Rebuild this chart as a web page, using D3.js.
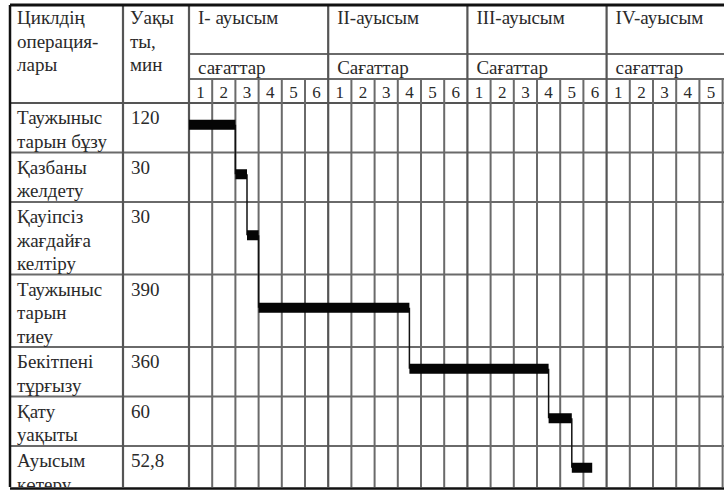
<!DOCTYPE html>
<html><head><meta charset="utf-8">
<script src="https://cdn.jsdelivr.net/npm/d3@7"></script>
<style>html,body{margin:0;padding:0;background:#fff;overflow:hidden}</style>
</head><body>
<svg id="chart" width="724" height="490"></svg>
<script>
// ---- data ----
const operations = [
  ["Таужыныс", "тарын бұзу"],
  ["Қазбаны", "желдету"],
  ["Қауіпсіз", "жағдайға", "келтіру"],
  ["Таужыныс", "тарын", "тиеу"],
  ["Бекітпені", "тұрғызу"],
  ["Қату", "уақыты"],
  ["Ауысым", "көтеру"]
];
const durationLabels = ["120", "30", "30", "390", "360", "60", "52,8"];
const durations = [120, 30, 30, 390, 360, 60, 52.8]; // minutes
const shiftLabels = ["I- ауысым", "II-ауысым", "III-ауысым", "IV-ауысым"];
const hoursLabels = ["сағаттар", "Сағаттар", "Сағаттар", "сағаттар"];
const hourTicks = [1, 2, 3, 4, 5, 6];
const headerCol1 = ["Циклдің", "операция-", "лары"];
const headerCol2 = ["Уақы", "ты,", "мин"];

(function () {
// ---- layout ----
const W = 724, H = 490;
const leftX = 10, col2 = 123, col3 = 189, topY = 5;
const yShift = 54, yHours = 79, yBody = 103;
const hourW = 23.2;
const lineH = 23.5;
const font = "'Liberation Serif','Times New Roman',serif";
const gridC = "#6a6a6a", textC = "#2a2a2a";

const svg = d3.select("#chart");
svg.append("rect").attr("width", W).attr("height", H).attr("fill", "#fff");

const x = d3.scaleLinear().domain([0, 24 * 60]).range([col3, col3 + 24 * hourW]);

const rowTops = [];
let yy = yBody;
operations.forEach(lines => { rowTops.push(yy); yy += lines.length * 23 + 3.5; });
const rowH = operations.map(l => l.length * 23 + 3.5);

const starts = [];
let acc = 0;
durations.forEach(d => { starts.push(acc); acc += d; });

const g = svg.append("g");

g.append("line").attr("x1", col3).attr("x2", W).attr("y1", yShift).attr("y2", yShift)
  .attr("stroke", gridC).attr("stroke-width", 2);
g.append("line").attr("x1", col3).attr("x2", W).attr("y1", yHours).attr("y2", yHours)
  .attr("stroke", gridC).attr("stroke-width", 2);
g.append("line").attr("x1", leftX).attr("x2", W).attr("y1", yBody).attr("y2", yBody)
  .attr("stroke", "#555").attr("stroke-width", 2.2);
rowTops.slice(1).forEach(t => {
  g.append("line").attr("x1", leftX).attr("x2", W).attr("y1", t).attr("y2", t)
    .attr("stroke", gridC).attr("stroke-width", 2);
});

const hourMarks = d3.range(0, 25).map(h => h * 60);
hourMarks.forEach(m => {
  const isShift = m % 360 === 0;
  g.append("line")
    .attr("x1", x(m)).attr("x2", x(m))
    .attr("y1", isShift ? topY : yHours).attr("y2", H)
    .attr("stroke", isShift ? "#555" : gridC)
    .attr("stroke-width", isShift ? 2.2 : 2);
});
g.append("line").attr("x1", col2).attr("x2", col2).attr("y1", topY).attr("y2", H)
  .attr("stroke", "#555").attr("stroke-width", 2.2);

const txt = (s, tx, ty, size, anchor) => g.append("text").text(s)
  .attr("x", tx).attr("y", ty).attr("font-family", font).attr("font-size", size)
  .attr("fill", textC).attr("text-anchor", anchor || "start");

headerCol1.forEach((s, i) => txt(s, 17, 24 + i * 23.5, 19));
headerCol2.forEach((s, i) => txt(s, 130, 24 + i * 23.5, 19));
shiftLabels.forEach((s, i) => txt(s, x(i * 360) + 9, 24, 19));
hoursLabels.forEach((s, i) => txt(s, x(i * 360) + 9, 74, 19));
d3.range(4).forEach(sh => hourTicks.forEach(h => {
  const m = sh * 360 + (h - 0.5) * 60;
  txt(String(h), x(m), 98, 17, "middle");
}));

operations.forEach((lines, i) => {
  lines.forEach((s, j) => txt(s, 17, rowTops[i] + 21 + j * lineH, 19));
  txt(durationLabels[i], 131, rowTops[i] + 21, 19);
});

const barH = 10;
const barY = i => rowTops[i] + rowH[i] / 2 - 3;
durations.forEach((d, i) => {
  if (i < durations.length - 1) {
    const xe = x(starts[i] + d);
    g.append("line").attr("x1", xe).attr("x2", xe)
      .attr("y1", barY(i)).attr("y2", barY(i + 1))
      .attr("stroke", "#111").attr("stroke-width", 1.5);
  }
});
g.selectAll("rect.bar").data(durations).enter().append("rect")
  .attr("class", "bar")
  .attr("x", (d, i) => x(starts[i]))
  .attr("width", (d, i) => x(starts[i] + d) - x(starts[i]))
  .attr("y", (d, i) => barY(i) - barH / 2)
  .attr("height", barH)
  .attr("fill", "#050505");

g.append("line").attr("x1", leftX).attr("x2", W).attr("y1", topY).attr("y2", topY)
  .attr("stroke", "#111").attr("stroke-width", 3);
g.append("line").attr("x1", leftX).attr("x2", leftX).attr("y1", topY).attr("y2", H)
  .attr("stroke", "#111").attr("stroke-width", 2.5);
g.append("rect").attr("x", 0).attr("y", 487).attr("width", W).attr("height", 3).attr("fill", "#fff");
g.append("line").attr("x1", leftX).attr("x2", W).attr("y1", 488.5).attr("y2", 488.5)
  .attr("stroke", "#111").attr("stroke-width", 2.5);
})();
</script>
</body></html>
